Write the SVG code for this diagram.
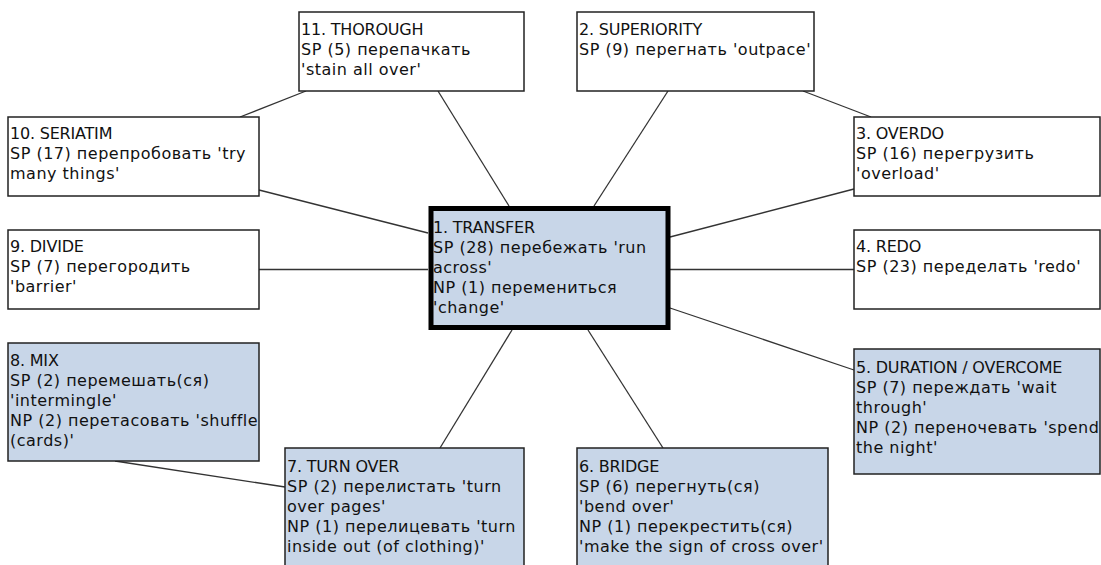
<svg xmlns="http://www.w3.org/2000/svg" width="1101" height="565" viewBox="0 0 1101 565">
<style>
.box{fill:#ffffff;stroke:#222;stroke-width:1.5}
.hl{fill:#c8d6e8}
.center{fill:#c8d6e8;stroke:#000;stroke-width:5}
.edge{stroke:#333;stroke-width:1.3;fill:none}
text{font-family:"DejaVu Sans",sans-serif;font-size:16px;fill:#111;letter-spacing:0.5px}
.t{letter-spacing:-0.2px}
</style>
<rect width="1101" height="565" fill="#ffffff"/>
<g id="connectors">
<line class="edge" x1="509" y1="206" x2="438" y2="91"/>
<line class="edge" x1="594" y1="206" x2="668" y2="91"/>
<line class="edge" x1="428" y1="233" x2="259" y2="190"/>
<line class="edge" x1="670" y1="237" x2="854" y2="189"/>
<line class="edge" x1="259" y1="269.5" x2="428" y2="269.5"/>
<line class="edge" x1="670" y1="269.5" x2="854" y2="269.5"/>
<line class="edge" x1="670" y1="308" x2="854" y2="370"/>
<line class="edge" x1="512" y1="330" x2="440" y2="448"/>
<line class="edge" x1="588" y1="330" x2="663" y2="448"/>
<line class="edge" x1="115" y1="461" x2="285" y2="487"/>
<line class="edge" x1="240" y1="117" x2="306" y2="91"/>
<line class="edge" x1="803" y1="91" x2="871" y2="117"/>
</g>
<g id="node1">
<rect class="center" x="431" y="208.5" width="237" height="119"/>
<text x="433" y="233"><tspan class="t">1. TRANSFER</tspan><tspan x="433" dy="20">SP (28) перебежать 'run</tspan><tspan x="433" dy="20">across'</tspan><tspan x="433" dy="20">NP (1) перемениться</tspan><tspan x="433" dy="20">'change'</tspan></text>
</g>
<g id="node2">
<rect class="box" x="577" y="12" width="237" height="79"/>
<text x="579" y="35"><tspan class="t">2. SUPERIORITY</tspan><tspan x="579" dy="20">SP (9) перегнать 'outpace'</tspan></text>
</g>
<g id="node3">
<rect class="box" x="854" y="117" width="246" height="79"/>
<text x="856" y="139"><tspan class="t">3. OVERDO</tspan><tspan x="856" dy="20">SP (16) перегрузить</tspan><tspan x="856" dy="20">'overload'</tspan></text>
</g>
<g id="node4">
<rect class="box" x="854" y="230" width="246" height="79"/>
<text x="856" y="252"><tspan class="t">4. REDO</tspan><tspan x="856" dy="20">SP (23) переделать 'redo'</tspan></text>
</g>
<g id="node5">
<rect class="box hl" x="854" y="349" width="246" height="125"/>
<text x="856" y="373"><tspan class="t">5. DURATION / OVERCOME</tspan><tspan x="856" dy="20">SP (7) переждать 'wait</tspan><tspan x="856" dy="20">through'</tspan><tspan x="856" dy="20">NP (2) переночевать 'spend</tspan><tspan x="856" dy="20">the night'</tspan></text>
</g>
<g id="node6">
<rect class="box hl" x="577" y="448" width="251" height="130"/>
<text x="579" y="472"><tspan class="t">6. BRIDGE</tspan><tspan x="579" dy="20">SP (6) перегнуть(ся)</tspan><tspan x="579" dy="20">'bend over'</tspan><tspan x="579" dy="20">NP (1) перекрестить(ся)</tspan><tspan x="579" dy="20">'make the sign of cross over'</tspan></text>
</g>
<g id="node7">
<rect class="box hl" x="285" y="448" width="239" height="130"/>
<text x="287" y="472"><tspan class="t">7. TURN OVER</tspan><tspan x="287" dy="20">SP (2) перелистать 'turn</tspan><tspan x="287" dy="20">over pages'</tspan><tspan x="287" dy="20">NP (1) перелицевать 'turn</tspan><tspan x="287" dy="20">inside out (of clothing)'</tspan></text>
</g>
<g id="node8">
<rect class="box hl" x="8" y="343" width="251" height="118"/>
<text x="10" y="366"><tspan class="t">8. MIX</tspan><tspan x="10" dy="20">SP (2) перемешать(ся)</tspan><tspan x="10" dy="20">'intermingle'</tspan><tspan x="10" dy="20">NP (2) перетасовать 'shuffle</tspan><tspan x="10" dy="20">(cards)'</tspan></text>
</g>
<g id="node9">
<rect class="box" x="8" y="230" width="251" height="79"/>
<text x="10" y="252"><tspan class="t">9. DIVIDE</tspan><tspan x="10" dy="20">SP (7) перегородить</tspan><tspan x="10" dy="20">'barrier'</tspan></text>
</g>
<g id="node10">
<rect class="box" x="8" y="117" width="251" height="79"/>
<text x="10" y="139"><tspan class="t">10. SERIATIM</tspan><tspan x="10" dy="20">SP (17) перепробовать 'try</tspan><tspan x="10" dy="20">many things'</tspan></text>
</g>
<g id="node11">
<rect class="box" x="299" y="12" width="225" height="79"/>
<text x="301" y="35"><tspan class="t">11. THOROUGH</tspan><tspan x="301" dy="20">SP (5) перепачкать</tspan><tspan x="301" dy="20">'stain all over'</tspan></text>
</g>
</svg>
